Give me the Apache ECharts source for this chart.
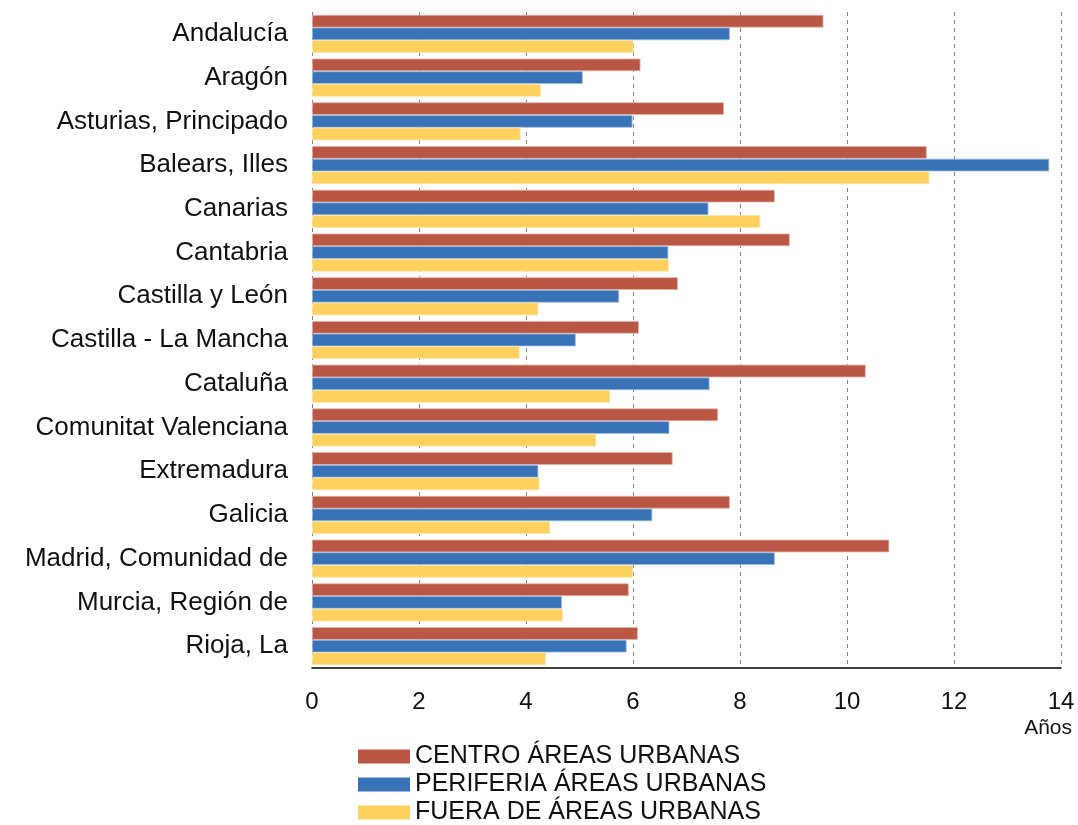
<!DOCTYPE html>
<html>
<head>
<meta charset="utf-8">
<script src="https://cdn.jsdelivr.net/npm/echarts@6/dist/echarts.min.js"></script>
<style>
  html, body { margin: 0; padding: 0; background: #fff; }
  #main { width: 1078px; height: 825px; }
</style>
</head>
<body>
<div id="main"></div>
<script>
// comunidades autónomas
var regiones = ['Andalucía', 'Aragón', 'Asturias, Principado', 'Balears, Illes', 'Canarias',
  'Cantabria', 'Castilla y León', 'Castilla - La Mancha', 'Cataluña', 'Comunitat Valenciana',
  'Extremadura', 'Galicia', 'Madrid, Comunidad de', 'Murcia, Región de', 'Rioja, La'];

// años, por serie
var centro    = [9.56, 6.14, 7.70, 11.49, 8.65, 8.93, 6.84, 6.11, 10.35, 7.59, 6.74, 7.81, 10.79, 5.92, 6.09];
var periferia = [7.81, 5.06, 5.99, 13.78, 7.41, 6.66, 5.74, 4.93, 7.43, 6.68, 4.23, 6.36, 8.65, 4.67, 5.88];
var fuera     = [6.01, 4.28, 3.90, 11.54, 8.38, 6.67, 4.23, 3.88, 5.57, 5.31, 4.25, 4.45, 6.00, 4.69, 4.37];

var nombres = ['CENTRO ÁREAS URBANAS', 'PERIFERIA ÁREAS URBANAS', 'FUERA DE ÁREAS URBANAS'];
var colores = ['#B95744', '#3873B8', '#FED15E'];
var bordes  = ['#e6b3a8', '#9dbde2', '#fde6a8'];

var chart = echarts.init(document.getElementById('main'));

function serie(i, datos) {
  return {
    name: nombres[i],
    type: 'bar',
    data: datos,
    barGap: '0%',
    barCategoryGap: '13%',
    itemStyle: { color: colores[i], borderColor: bordes[i], borderWidth: 0.8 },
    emphasis: { disabled: true }
  };
}

// una leyenda por fila, para que no se parta en columnas
function leyenda(i) {
  return {
    orient: 'vertical',
    left: 358,
    top: 744 + i * 28,
    padding: 0,
    itemWidth: 52,
    itemHeight: 14,
    icon: 'rect',
    data: [nombres[i]],
    itemStyle: { borderWidth: 0 },
    textStyle: { fontSize: 25, lineHeight: 25, color: '#111' }
  };
}

var option = {
  animation: false,
  textStyle: { fontFamily: 'Liberation Sans, Arial, sans-serif' },
  grid: { left: 312, right: 17, top: 12, bottom: 157 },
  legend: [leyenda(0), leyenda(1), leyenda(2)],
  xAxis: {
    type: 'value',
    min: 0,
    max: 14,
    interval: 2,
    axisLine: { show: true, lineStyle: { color: '#000', width: 1.5 } },
    axisTick: { show: false },
    axisLabel: { fontSize: 24, color: '#111', margin: 22 },
    splitLine: { show: true, lineStyle: { color: '#888', type: [4, 4], width: 1 } }
  },
  yAxis: {
    type: 'category',
    data: regiones,
    inverse: true,
    axisLine: { show: false },
    axisTick: { show: false },
    axisLabel: { fontSize: 26, color: '#111', margin: 24 }
  },
  graphic: [{
    type: 'text',
    right: 6,
    top: 718,
    style: { text: 'Años', fontSize: 21, fill: '#111', fontFamily: 'Liberation Sans, Arial, sans-serif' }
  }],
  series: [serie(0, centro), serie(1, periferia), serie(2, fuera)]
};

chart.setOption(option);
</script>
</body>
</html>
